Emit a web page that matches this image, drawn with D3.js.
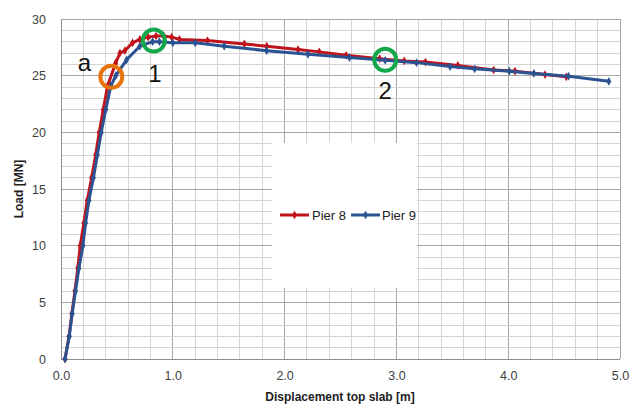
<!DOCTYPE html>
<html><head><meta charset="utf-8">
<script src="https://cdn.jsdelivr.net/npm/d3@7"></script>
<style>body{margin:0;background:#fff}svg{display:block}</style>
</head><body><svg id="c" width="642" height="407"></svg>
<script>
// Pier 8 (red)
const pier8X = [0.036,0.072,0.097,0.125,0.15,0.172,0.205,0.235,0.274,0.31,0.342,0.378,0.417,0.488,0.527,0.571,0.64,0.705,0.78,0.85,0.92,0.99,1.06,1.31,1.64,1.84,2.12,2.31,2.55,2.85,3.07,3.26,3.55,3.87,4.06,4.33,4.52];
const pier8Y = [0,2,4,6,8,10,12,14,16,18,20,22,24.1,26.1,27.0,27.2,27.9,28.2,28.4,28.5,28.5,28.4,28.2,28.1,27.8,27.6,27.3,27.1,26.8,26.5,26.3,26.2,25.9,25.5,25.4,25.1,24.9];
// Pier 9 (blue)
const pier9X = [0.036,0.074,0.10,0.13,0.16,0.196,0.22,0.25,0.29,0.325,0.36,0.40,0.446,0.49,0.587,0.705,0.82,0.88,1.0,1.2,1.46,1.84,2.21,2.58,2.9,3.18,3.48,3.70,4.01,4.23,4.54,4.90];
const pier9Y = [0,2,4,6,8,10,12,14,16,18,20,22,24.1,25.0,26.4,27.6,28.0,28.0,27.9,27.9,27.6,27.2,26.9,26.6,26.35,26.15,25.8,25.6,25.4,25.2,24.95,24.5];
const xTicks = [0,1,2,3,4,5];
const yTicks = [0,5,10,15,20,25,30];
const seriesNames = ["Pier 8","Pier 9"];
const colors = ["#c0141c","#2b5391"];
const annotations = [{t:"a",x:0.21,y:25.4},{t:"1",x:0.84,y:24.4},{t:"2",x:2.9,y:22.9}];
const circles = [{x:0.45,y:24.9,c:"#e8720c"},{x:0.83,y:28.1,c:"#12a84a"},{x:2.9,y:26.4,c:"#12a84a"}];

const svg = d3.select("#c");
const L=61,R=620,T=19,B=359;
const x = d3.scaleLinear().domain([0,5]).range([L,R]);
const y = d3.scaleLinear().domain([0,30]).range([B,T]);
const font = "'Liberation Sans', Arial, sans-serif";

const g = svg.append("g");
g.selectAll(".vx").data(d3.range(0,5.0001,0.2)).join("line")
 .attr("x1",d=>x(d)).attr("x2",d=>x(d)).attr("y1",T).attr("y2",B)
 .attr("stroke",d=>Math.abs(d-Math.round(d))<1e-6?"#a6a6a6":"#d4d4d4").attr("stroke-width",1).attr("shape-rendering","crispEdges");
g.selectAll(".hy").data(d3.range(0,31,1)).join("line")
 .attr("y1",d=>y(d)).attr("y2",d=>y(d)).attr("x1",L).attr("x2",R)
 .attr("stroke",d=>d%5===0?"#a6a6a6":"#d4d4d4").attr("stroke-width",1).attr("shape-rendering","crispEdges");
svg.append("line").attr("x1",L).attr("x2",L).attr("y1",T).attr("y2",B).attr("stroke","#8c8c8c").attr("shape-rendering","crispEdges");
svg.append("line").attr("x1",L).attr("x2",R).attr("y1",B).attr("y2",B).attr("stroke","#8c8c8c").attr("shape-rendering","crispEdges");

const xa = svg.append("g").attr("transform",`translate(0,${B})`)
 .call(d3.axisBottom(x).tickValues(xTicks).tickFormat(d3.format(".1f")).tickSize(0).tickPadding(12));
const ya = svg.append("g").attr("transform",`translate(${L},0)`)
 .call(d3.axisLeft(y).tickValues(yTicks).tickSize(0).tickPadding(15));
[xa,ya].forEach(a=>{a.select(".domain").remove();a.selectAll("text").attr("font-family",font).attr("font-size",12.5).attr("fill","#404040");});

svg.append("text").attr("x",340).attr("y",401).attr("text-anchor","middle").attr("font-family",font).attr("font-weight","bold").attr("font-size",12).attr("fill","#222").text("Displacement top slab [m]");
svg.append("text").attr("transform","translate(23,189) rotate(-90)").attr("text-anchor","middle").attr("font-family",font).attr("font-weight","bold").attr("font-size",12).attr("fill","#222").text("Load [MN]");

svg.append("rect").attr("x",272).attr("y",143).attr("width",145).attr("height",145).attr("fill","#fff");

const data = [d3.zip(pier8X,pier8Y), d3.zip(pier9X,pier9Y)];
const line = d3.line().x(d=>x(d[0])).y(d=>y(d[1]));
data.forEach((s,i)=>{
  svg.append("path").datum(s).attr("d",line).attr("fill","none").attr("stroke",colors[i]).attr("stroke-width",3).attr("stroke-linejoin","round");
  svg.append("g").selectAll("path").data(s).join("path")
   .attr("transform",d=>`translate(${x(d[0])},${y(d[1])})`)
   .attr("d",d3.symbol().type(d3.symbolDiamond).size(22)).attr("fill",colors[i]);
});

const leg = [{x0:280,tx:312},{x0:351,tx:382}];
leg.forEach((l,i)=>{
  svg.append("line").attr("x1",l.x0).attr("x2",l.x0+29).attr("y1",215).attr("y2",215).attr("stroke",colors[i]).attr("stroke-width",3);
  svg.append("path").attr("transform",`translate(${l.x0+14.5},215)`).attr("d",d3.symbol().type(d3.symbolDiamond).size(22)).attr("fill",colors[i]);
  svg.append("text").attr("x",l.tx).attr("y",219.5).attr("font-family",font).attr("font-size",13).attr("fill","#222").text(seriesNames[i]);
});

svg.selectAll(".circ").data(circles).join("circle")
 .attr("cx",d=>x(d.x)).attr("cy",d=>y(d.y)).attr("r",11).attr("fill","none").attr("stroke",d=>d.c).attr("stroke-width",4);
svg.selectAll(".ann").data(annotations).join("text")
 .attr("x",d=>x(d.x)).attr("y",d=>y(d.y)).attr("text-anchor","middle").attr("font-family",font).attr("font-size",24).attr("fill","#111").text(d=>d.t);
</script></body></html>
